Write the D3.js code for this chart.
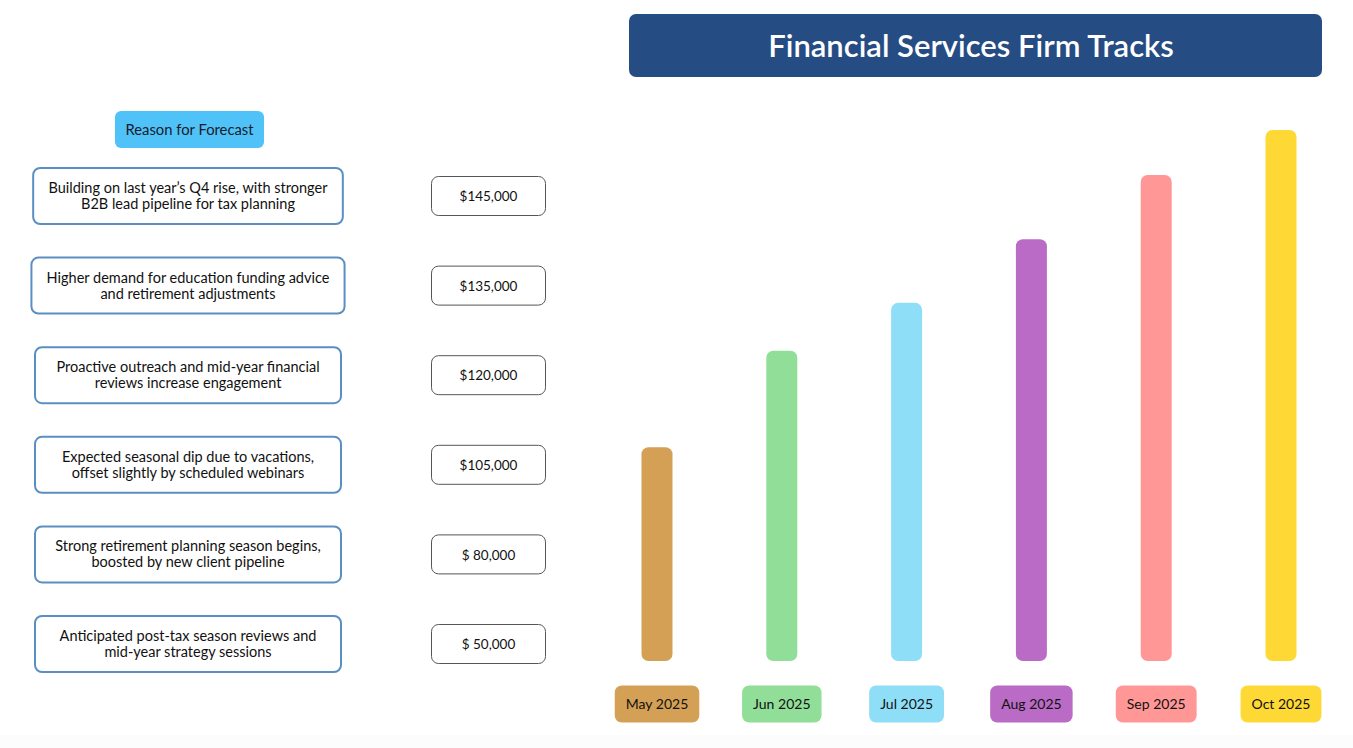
<!DOCTYPE html>
<html>
<head>
<meta charset="utf-8">
<script src="https://cdn.jsdelivr.net/npm/d3@7"></script>
<style>
  body { margin: 0; background: #fff; }
  svg { display: block; font-family: Lato, "Open Sans", sans-serif; }
</style>
</head>
<body>
<div id="chart"></div>
<script>
const months = ["May 2025", "Jun 2025", "Jul 2025", "Aug 2025", "Sep 2025", "Oct 2025"];
// bar lengths (dollars)
const barValues = [58400, 84700, 97800, 115200, 132700, 145000];
const monthColors = ["#d4a056", "#90de98", "#8edef8", "#ba6bc6", "#ff9797", "#fed936"];

const reasons = [
    ["Building on last year\u2019s Q4 rise, with stronger", "B2B lead pipeline for tax planning"],
    ["Higher demand for education funding advice", "and retirement adjustments"],
    ["Proactive outreach and mid-year financial", "reviews increase engagement"],
    ["Expected seasonal dip due to vacations,", "offset slightly by scheduled webinars"],
    ["Strong retirement planning season begins,", "boosted by new client pipeline"],
    ["Anticipated post-tax season reviews and", "mid-year strategy sessions"]
];
const forecastLabels = ["$145,000", "$135,000", "$120,000", "$105,000", "$ 80,000", "$ 50,000"];

const W = 1353, H = 748;

const svg = d3.select("#chart")
    .append("svg")
    .attr("width", W)
    .attr("height", H);

// faint floor shadow
svg.append("rect")
    .attr("x", 0).attr("y", 735)
    .attr("width", W).attr("height", 13)
    .attr("fill", "#fcfcfc");

// title
svg.append("rect")
    .attr("x", 629).attr("y", 14)
    .attr("width", 693).attr("height", 63)
    .attr("rx", 7)
    .attr("fill", "#264c84");

svg.append("text")
    .attr("x", 971).attr("y", 46)
    .attr("dy", "0.35em")
    .attr("text-anchor", "middle")
    .attr("fill", "#fff")
    .attr("font-size", 31)
    .attr("font-weight", 600)
    .text("Financial Services Firm Tracks");

// left side: reasons and values
svg.append("rect")
    .attr("x", 115).attr("y", 111)
    .attr("width", 149).attr("height", 37)
    .attr("rx", 6)
    .attr("fill", "#4fc3f7");

svg.append("text")
    .attr("x", 189.5).attr("y", 129.5)
    .attr("dy", "0.35em")
    .attr("text-anchor", "middle")
    .attr("fill", "#1a1a2e")
    .attr("font-size", 14.8)
    .text("Reason for Forecast");

const rowY = d3.scalePoint()
    .domain(d3.range(reasons.length))
    .range([196, 644]);

const rows = svg.selectAll(".row")
    .data(reasons)
    .enter().append("g")
    .attr("class", "row")
    .attr("transform", (d, i) => `translate(0,${rowY(i)})`);

const boxes = rows.append("rect")
    .attr("y", -28)
    .attr("height", 56)
    .attr("rx", 7)
    .attr("fill", "#fff")
    .attr("stroke", "#5b8fc2")
    .attr("stroke-width", 2);

const reasonText = rows.append("text")
    .attr("text-anchor", "middle")
    .attr("fill", "#111")
    .attr("font-size", 14.5);

reasonText.selectAll("tspan")
    .data(d => d)
    .enter().append("tspan")
    .attr("x", 188)
    .attr("y", (d, i) => i === 0 ? -8 : 8)
    .attr("dy", "0.35em")
    .text(d => d);

// box width follows the longest line, as in the original layout
boxes.each(function() {
    const t = d3.select(this.parentNode).select("text").node().getBBox();
    const w = Math.max(306, t.width + 30);
    d3.select(this).attr("x", 188 - w / 2).attr("width", w);
});

rows.append("rect")
    .attr("x", 431.5).attr("y", -19.5)
    .attr("width", 114).attr("height", 39)
    .attr("rx", 7)
    .attr("fill", "#fff")
    .attr("stroke", "#555")
    .attr("stroke-width", 1);

rows.append("text")
    .attr("x", 488.5).attr("y", 0.5)
    .attr("dy", "0.35em")
    .attr("text-anchor", "middle")
    .attr("fill", "#111")
    .attr("font-size", 13.5)
    .text((d, i) => forecastLabels[i]);

// right side: bars
const x = d3.scalePoint()
    .domain(months)
    .range([657, 1281]);

const y = d3.scaleLinear()
    .domain([0, 145000])
    .range([661, 130]);

const barW = 31;

svg.selectAll(".bar")
    .data(months)
    .enter().append("rect")
    .attr("class", "bar")
    .attr("x", d => x(d) - barW / 2)
    .attr("y", (d, i) => y(barValues[i]))
    .attr("width", barW)
    .attr("height", (d, i) => y(0) - y(barValues[i]))
    .attr("rx", 7)
    .attr("fill", (d, i) => monthColors[i]);

const labels = svg.selectAll(".month")
    .data(months)
    .enter().append("g")
    .attr("class", "month")
    .attr("transform", d => `translate(${x(d)},704)`);

const pills = labels.append("rect")
    .attr("y", -18.5)
    .attr("height", 37)
    .attr("rx", 7)
    .attr("fill", (d, i) => monthColors[i]);

labels.append("text")
    .attr("dy", "0.35em")
    .attr("text-anchor", "middle")
    .attr("fill", "#111")
    .attr("font-size", 14)
    .text(d => d);

pills.each(function() {
    const w = d3.select(this.parentNode).select("text").node().getComputedTextLength() + 22;
    d3.select(this).attr("x", -w / 2).attr("width", w);
});
</script>
</body>
</html>
